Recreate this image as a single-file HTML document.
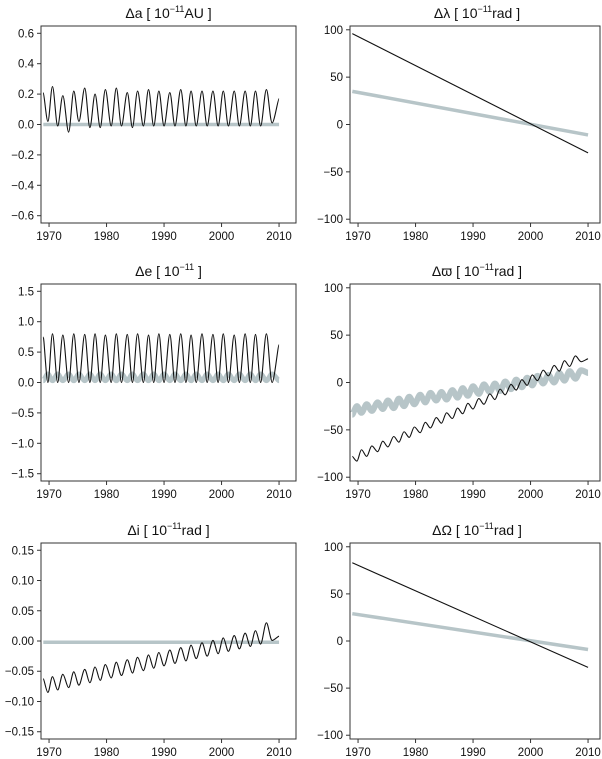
<!DOCTYPE html>
<html><head><meta charset="utf-8"><style>
html,body{margin:0;padding:0;background:#fff}
svg{display:block;font-family:"Liberation Sans",sans-serif}
</style></head><body>
<svg id="chart" width="602" height="759" viewBox="0 0 602 759" xmlns="http://www.w3.org/2000/svg"></svg>
<script>
const xTickValues=[1970,1980,1990,2000,2010];
const cycleTimes=[1969.0,1969.8,1970.6,1971.5,1972.4,1973.4,1974.3,1975.2,1976.2,1977.1,1978.0,1978.9,1979.8,1980.8,1981.7,1982.6,1983.6,1984.5,1985.4,1986.4,1987.3,1988.2,1989.1,1990.0,1991.0,1991.9,1992.9,1993.8,1994.7,1995.6,1996.6,1997.5,1998.5,1999.4,2000.3,2001.2,2002.2,2003.1,2004.1,2005.0,2005.9,2006.8,2007.8,2008.8,2010.0];
const endTimes=[1969,2010];
const aBlack=[.21,.02,.25,-.01,.19,-.05,.22,.02,.24,-.02,.20,-.02,.23,-.01,.24,-.01,.21,-.02,.22,-.01,.23,-.01,.22,-.01,.21,-.01,.23,-.01,.22,-.01,.22,-.01,.22,-.01,.22,-.01,.22,-.01,.22,-.01,.22,-.01,.23,.01,.17];
const aGrey=[0,0];
const eBlack=[.75,0,.8,0,.78,0,.8,0,.79,0,.8,0,.78,0,.8,0,.79,0,.8,0,.78,0,.8,0,.79,0,.8,0,.78,0,.8,0,.79,0,.8,0,.78,0,.8,0,.79,0,.8,0,.62];
const eGrey=[.03,.14,.03,.14,.03,.14,.03,.14,.03,.14,.03,.14,.03,.14,.03,.14,.03,.14,.03,.14,.03,.14,.03,.14,.03,.14,.03,.14,.03,.14,.03,.14,.03,.14,.03,.14,.03,.14,.03,.14,.03,.14,.03,.14,.03];
const iBlack=[-0.062,-0.085,-0.059,-0.081,-0.055,-0.077,-0.051,-0.073,-0.047,-0.069,-0.043,-0.065,-0.039,-0.061,-0.035,-0.057,-0.031,-0.053,-0.027,-0.049,-0.023,-0.045,-0.019,-0.041,-0.015,-0.037,-0.011,-0.033,-0.007,-0.029,-0.003,-0.025,0.001,-0.021,0.005,-0.017,0.009,-0.013,0.013,-0.009,0.017,-0.005,0.030,0.001,0.008];
const iGrey=[-0.002,-0.002];
const lamBlack=[96,-30];
const lamGrey=[35,-11];
const pomBlack=[-78,-83,-71,-78,-67,-73,-62,-68,-57,-63,-52,-58,-47,-53,-42,-48,-37,-43,-32,-38,-27,-33,-22,-28,-17,-23,-12,-18,-7,-13,-2,-8,3,-3,8,2,13,7,18,12,23,17,28,22,25];
const pomGrey=[-34,-25,-32,-23,-30,-21,-28,-19,-27,-17,-25,-15,-23,-13,-21,-11,-19,-10,-18,-8,-16,-6,-14,-4,-12,-2,-10,-1,-9,1,-7,3,-5,5,-3,7,-1,8,0,10,2,12,4,13,10];
const omBlack=[83,-28];
const omGrey=[29,-9];
const aTicks=[0.6,0.4,0.2,0,-0.2,-0.4,-0.6], aTickLabels=["0.6","0.4","0.2","0.0","−0.2","−0.4","−0.6"];
const eTicks=[1.5,1,0.5,0,-0.5,-1,-1.5], eTickLabels=["1.5","1.0","0.5","0.0","−0.5","−1.0","−1.5"];
const iTicks=[0.15,0.1,0.05,0,-0.05,-0.1,-0.15], iTickLabels=["0.15","0.10","0.05","0.00","−0.05","−0.10","−0.15"];
const angTicks=[100,50,0,-50,-100], angTickLabels=["100","50","0","−50","−100"];

const NS="http://www.w3.org/2000/svg";
const svg=document.getElementById('chart');
function mk(tag,attrs,parent){const e=document.createElementNS(NS,tag);for(const k in attrs)e.setAttribute(k,attrs[k]);(parent||svg).appendChild(e);return e;}
function smoothPath(pts){
  if(pts.length===2)return `M${pts[0][0]},${pts[0][1]}L${pts[1][0]},${pts[1][1]}`;
  let d=`M${pts[0][0].toFixed(2)},${pts[0][1].toFixed(2)}`;
  for(let i=0;i<pts.length-1;i++){
    const p0=pts[Math.max(0,i-1)],p1=pts[i],p2=pts[i+1],p3=pts[Math.min(pts.length-1,i+2)];
    const c1x=p1[0]+(p2[0]-p0[0])/6,c2x=p2[0]-(p3[0]-p1[0])/6;
    d+=`C${c1x.toFixed(2)},${p1[1].toFixed(2)} ${c2x.toFixed(2)},${p2[1].toFixed(2)} ${p2[0].toFixed(2)},${p2[1].toFixed(2)}`;
  }
  return d;
}
const panels=[
 {name:'delta-a',x:41,y:26,w:255,h:197,ymax:0.648,gw:3.5,title:['Δa [ 10','−11','AU ]'],ticks:aTicks,labels:aTickLabels,grey:[endTimes,aGrey],black:[cycleTimes,aBlack]},
 {name:'delta-lambda',x:350,y:26,w:250,h:197,ymax:104,gw:3.5,title:['Δλ [ 10','−11','rad ]'],ticks:angTicks,labels:angTickLabels,grey:[endTimes,lamGrey],black:[endTimes,lamBlack]},
 {name:'delta-e',x:41,y:284,w:255,h:197,ymax:1.62,gw:5,title:['Δe [ 10','−11',' ]'],ticks:eTicks,labels:eTickLabels,grey:[cycleTimes,eGrey],black:[cycleTimes,eBlack]},
 {name:'delta-varpi',x:350,y:284,w:250,h:197,ymax:104,gw:6,title:['Δϖ [ 10','−11','rad ]'],ticks:angTicks,labels:angTickLabels,grey:[cycleTimes,pomGrey],black:[cycleTimes,pomBlack]},
 {name:'delta-i',x:41,y:543,w:255,h:196,ymax:0.162,gw:3.5,title:['Δi [ 10','−11','rad ]'],ticks:iTicks,labels:iTickLabels,grey:[endTimes,iGrey],black:[cycleTimes,iBlack]},
 {name:'delta-omega',x:350,y:543,w:250,h:196,ymax:104,gw:3.5,title:['ΔΩ [ 10','−11','rad ]'],ticks:angTicks,labels:angTickLabels,grey:[endTimes,omGrey],black:[endTimes,omBlack]}
];
const XMIN=1968.6,PXYR=5.75;
panels.forEach(p=>{
  const g=mk('g',{});
  
  
  const xs=t=>p.x+(t-XMIN)*PXYR;
  const ys=v=>p.y+p.h/2-v*(p.h/2)/p.ymax;
  const gl=mk('path',{d:smoothPath(p.grey[0].map((t,i)=>[xs(t),ys(p.grey[1][i])])),fill:'none',stroke:'#b7c5c8','stroke-width':p.gw,'stroke-linejoin':'round'},g);
  
  
  const bl=mk('path',{d:smoothPath(p.black[0].map((t,i)=>[xs(t),ys(p.black[1][i])])),fill:'none',stroke:'#111','stroke-width':1.1},g);
  
  
  const box=mk('rect',{x:p.x,y:p.y,width:p.w,height:p.h,fill:'none',stroke:'#333','stroke-width':1},g);
  
  
  p.ticks.forEach((v,i)=>{
    const y=ys(v);
    mk('line',{x1:p.x-4,x2:p.x,y1:y,y2:y,stroke:'#333'},g);
    const t=mk('text',{x:p.x-7,y:y+4,'text-anchor':'end','font-size':11.5,fill:'#111'},g);
    t.textContent=p.labels[i];
    
    
  });
  xTickValues.forEach(v=>{
    const x=xs(v);
    mk('line',{x1:x,x2:x,y1:p.y+p.h,y2:p.y+p.h+4,stroke:'#333'},g);
    const t=mk('text',{x:x,y:p.y+p.h+17,'text-anchor':'middle','font-size':11.5,fill:'#111'},g);
    t.textContent=v;
    
    
  });
  const tt=mk('text',{x:p.x+p.w/2+(p.w===250?2:0),y:p.y-8,'text-anchor':'middle','font-size':14,fill:'#111'},g);
  
  
  const s1=mk('tspan',{},tt);s1.textContent=p.title[0];
  const s2=mk('tspan',{dy:-6,'font-size':9},tt);s2.textContent=p.title[1];
  const s3=mk('tspan',{dy:6},tt);s3.textContent=p.title[2];
});
</script>
</body></html>
